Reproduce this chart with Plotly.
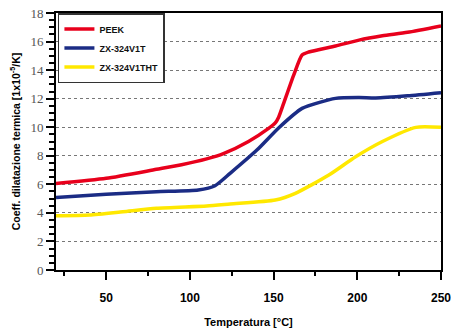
import plotly.graph_objects as go

# PEEK
peek_x = [20, 50, 80, 95, 110, 120, 135, 147, 151, 153, 156, 162, 167, 171, 187, 201, 215, 230, 250]
peek_y = [6.05, 6.42, 7.05, 7.37, 7.78, 8.15, 9.0, 9.92, 10.3, 10.7, 11.67, 13.65, 15.06, 15.27, 15.69, 16.1, 16.4, 16.65, 17.1]

# ZX-324V1T
v1t_x = [20, 50, 80, 105, 115, 124, 140, 153, 167, 187, 201, 211, 230, 250]
v1t_y = [5.08, 5.3, 5.48, 5.6, 5.9, 6.77, 8.4, 9.95, 11.32, 12.02, 12.08, 12.05, 12.2, 12.42]

# ZX-324V1THT
v1tht_x = [20, 40, 60, 80, 110, 124, 151, 163, 183, 199, 215, 235, 250]
v1tht_y = [3.8, 3.85, 4.08, 4.32, 4.48, 4.62, 4.9, 5.37, 6.65, 7.93, 9.0, 9.99, 9.99]

names = ["PEEK", "ZX-324V1T", "ZX-324V1THT"]
colors = ["#E8001C", "#1B2C85", "#FFE800"]

x_ticks = [50, 100, 150, 200, 250]

fig = go.Figure()
for xs, ys, n, c in [(peek_x, peek_y, names[0], colors[0]),
                     (v1t_x, v1t_y, names[1], colors[1]),
                     (v1tht_x, v1tht_y, names[2], colors[2])]:
    fig.add_trace(go.Scatter(x=xs, y=ys, name=n, mode="lines",
                             line=dict(color=c, width=3.5, shape="spline", smoothing=0.6)))

fig.update_layout(
    width=451, height=329,
    margin=dict(l=56, r=10, t=13, b=59, autoexpand=False),
    paper_bgcolor="white", plot_bgcolor="white",
    font=dict(family="Liberation Sans, Arial, sans-serif", color="black"),
    legend=dict(x=0.005, y=1, xanchor="left", yanchor="top",
                bgcolor="white", bordercolor="#333333", borderwidth=1.5,
                font=dict(size=9, color="#111111", weight="bold"),
                tracegroupgap=0, itemwidth=30),
    showlegend=True,
)
fig.update_xaxes(
    range=[20, 250], tickvals=x_ticks, ticktext=[str(v) for v in x_ticks],
    ticks="outside", ticklen=8, tickwidth=1.5, tickcolor="black",
    minor=dict(dtick=25, tick0=0, ticks="outside", ticklen=4, tickwidth=1.5, tickcolor="black", showgrid=False),
    showline=True, linecolor="black", linewidth=2, mirror=True,
    showgrid=False, zeroline=False, automargin=False,
    ticklabeloverflow="allow", ticklabelstandoff=8,
    tickfont=dict(size=12, color="black", weight="bold"),
    title=dict(text="Temperatura [°C]", font=dict(size=11, weight="bold"), standoff=14),
)
fig.update_yaxes(
    range=[0, 18], dtick=2, tick0=0,
    ticks="outside", ticklen=8, tickwidth=1.5, tickcolor="black",
    minor=dict(dtick=0.5, ticks="outside", ticklen=5, tickwidth=1.5, tickcolor="black", showgrid=False),
    showline=True, linecolor="black", linewidth=2, mirror=True,
    showgrid=True, gridcolor="#777777", griddash="dot", gridwidth=1,
    zeroline=False, automargin=False,
    tickfont=dict(size=13, color="#555555", family="Liberation Serif, serif"),
    title=dict(text="Coeff. dilatazione termica [1x10<sup>-5</sup>/K]", font=dict(size=10.5, weight="bold"), standoff=8),
)
fig.write_html("out.html", config={"displayModeBar": False},
               post_script="document.body.style.margin='0px';document.body.style.padding='0px';")
